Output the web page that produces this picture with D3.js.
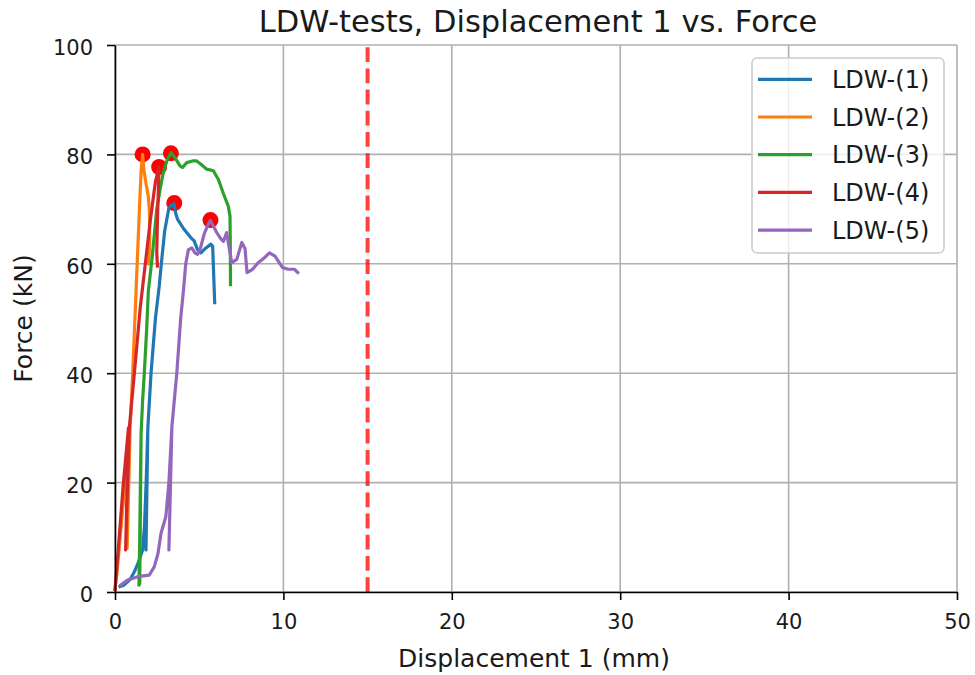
<!DOCTYPE html>
<html>
<head>
<meta charset="utf-8">
<script src="https://cdn.jsdelivr.net/npm/d3@7"></script>
<style>
  html, body { margin: 0; padding: 0; background: #ffffff; }
  svg { display: block; font-family: "DejaVu Sans", sans-serif; }
</style>
</head>
<body>
<svg id="chart" width="975" height="675"></svg>
<script>
// ---------- data ----------
const seriesNames = ["LDW-(1)", "LDW-(2)", "LDW-(3)", "LDW-(4)", "LDW-(5)"];
const seriesColors = ["#1f77b4", "#ff7f0e", "#2ca02c", "#d62728", "#9467bd"];

const ldw1 = [[0.3,1.0],[0.55,1.3],[0.9,2.3],[1.15,3.7],[1.4,5.5],[1.64,7.7],[1.75,12],[1.85,20],[1.95,30],[1.84,7.7],[1.95,30],[2.14,40],[2.4,50],[2.63,56],[2.75,60],[2.95,66],[3.2,70.2],[3.32,70.6],[3.5,71.0],[3.6,69.3],[3.72,68.1],[4.1,66.3],[4.5,64.8],[4.7,64.2],[4.9,62.6],[5.1,62.0],[5.4,62.9],[5.7,63.6],[5.8,63.2],[5.86,58],[5.92,52.9]];
const ldw2 = [[0,0.5],[0.1,3],[0.25,8],[0.45,15],[0.7,23],[0.9,30],[0.72,8],[0.9,30],[1.05,40],[1.25,55],[1.45,70],[1.55,77],[1.64,80],[1.72,77],[1.85,74.5],[1.97,72.5],[2.05,69.5],[2.06,64],[2.0,60]];
const ldw3 = [[1.42,1.3],[1.46,8],[1.5,18],[1.55,29],[1.47,1.5],[1.55,29],[1.64,35],[1.74,40],[1.88,48],[1.98,55],[2.2,61],[2.48,70],[2.7,74],[2.87,76.7],[3.1,79],[3.32,80.3],[3.56,79.4],[3.86,77.9],[4.01,77.6],[4.26,78.5],[4.6,78.8],[4.85,78.8],[5.1,78.2],[5.45,77.3],[5.84,77.0],[6.14,75.4],[6.43,72.9],[6.73,70.5],[6.83,68.7],[6.85,62],[6.86,56.2]];
const ldw4 = [[0,0.5],[0.1,4],[0.3,12],[0.5,20],[0.8,30],[0.63,7.7],[0.85,30],[1.15,40],[1.5,52],[1.8,60],[2.1,68],[2.4,75],[2.62,77.7],[2.58,74],[2.52,68],[2.48,62],[2.52,59.6]];
const ldw5 = [[0.36,1.3],[0.75,2.2],[1.35,2.8],[2.04,3.1],[2.33,4.6],[2.55,7],[2.73,10.7],[3.02,13.8],[3.2,20],[3.38,30.3],[3.2,7.7],[3.38,30.3],[3.67,40],[3.9,50],[4.07,55.3],[4.2,60],[4.36,62.6],[4.56,62.9],[4.75,62.0],[4.9,61.7],[5.05,62.6],[5.3,65.5],[5.54,67.2],[5.66,67.9],[6.04,65.7],[6.3,64.5],[6.44,64.1],[6.63,65.7],[6.93,60.2],[7.23,60.8],[7.53,63.9],[7.72,62.8],[7.84,58.4],[8.17,59],[8.5,60.2],[8.87,61.1],[9.17,62],[9.5,61.4],[9.95,59.3],[10.3,59],[10.65,59],[10.85,58.4]];
const seriesData = [ldw1, ldw2, ldw3, ldw4, ldw5];

const peakX = [3.52, 1.64, 3.32, 2.62, 5.67];
const peakY = [71.1, 80.0, 80.2, 77.7, 68.0];

const limitX = 15;
const xTicks = [0, 10, 20, 30, 40, 50];
const yTicks = [0, 20, 40, 60, 80, 100];
const titleText = "LDW-tests, Displacement 1 vs. Force";
const xLabelText = "Displacement 1 (mm)";
const yLabelText = "Force (kN)";

// ---------- layout ----------
const L = 115, R = 957, T = 45, B = 592;
const svg = d3.select("#chart");
const x = d3.scaleLinear().domain([0, 50]).range([L, R]);
const y = d3.scaleLinear().domain([0, 100]).range([B, T]);

// grid
const grid = svg.append("g");
grid.selectAll(".gx").data(xTicks).join("line")
  .attr("x1", d => x(d)).attr("x2", d => x(d)).attr("y1", T).attr("y2", B)
  .attr("stroke", "#b0b0b0").attr("stroke-width", 1.6);
grid.selectAll(".gy").data(yTicks).join("line")
  .attr("x1", L).attr("x2", R).attr("y1", d => y(d)).attr("y2", d => y(d))
  .attr("stroke", "#b0b0b0").attr("stroke-width", 1.6);

// peak dots (under the lines)
svg.append("g").selectAll("circle").data(peakX).join("circle")
  .attr("cx", d => x(d)).attr("cy", (d, i) => y(peakY[i])).attr("r", 8)
  .attr("fill", "#ff0000");

// curves
const line = d3.line().x(d => x(d[0])).y(d => y(d[1]));
svg.append("g").selectAll("path").data(seriesData).join("path")
  .attr("d", line).attr("fill", "none")
  .attr("stroke", (d, i) => seriesColors[i]).attr("stroke-width", 3.2)
  .attr("stroke-linejoin", "round").attr("stroke-linecap", "square");

// limit line
svg.append("line")
  .attr("x1", x(limitX)).attr("x2", x(limitX)).attr("y1", y(0)).attr("y2", y(100))
  .attr("stroke", "#ff0000").attr("stroke-opacity", 0.75).attr("stroke-width", 4)
  .attr("stroke-dasharray", "14.8,6.4");

// axes
const xAxis = d3.axisBottom(x).tickValues(xTicks).tickFormat(d3.format("d"))
  .tickSize(8).tickSizeOuter(0).tickPadding(14);
const yAxis = d3.axisLeft(y).tickValues(yTicks).tickFormat(d3.format("d"))
  .tickSize(8).tickSizeOuter(0).tickPadding(14);

const gx = svg.append("g").attr("transform", `translate(0,${B})`).call(xAxis);
const gy = svg.append("g").attr("transform", `translate(${L},0)`).call(yAxis);
[gx, gy].forEach(g => {
  g.select(".domain").attr("stroke", "#000").attr("stroke-width", 1.6);
  g.selectAll(".tick line").attr("stroke", "#000").attr("stroke-width", 1.6);
  g.selectAll(".tick text").attr("fill", "#1a1a1a")
    .style("font-family", "'DejaVu Sans', sans-serif").style("font-size", "21px");
});
gx.selectAll(".tick text").attr("y", 22).attr("dy", "0.71em");
gy.selectAll(".tick text").attr("dy", "0.45em");

// title & labels
svg.append("text").attr("x", (L + R) / 2 + 2).attr("y", 32)
  .attr("text-anchor", "middle").style("font-size", "30.5px").attr("fill", "#1a1a1a")
  .text(titleText);
svg.append("text").attr("x", (L + R) / 2 - 2).attr("y", 667)
  .attr("text-anchor", "middle").style("font-size", "25px").attr("fill", "#1a1a1a")
  .text(xLabelText);
svg.append("text").attr("transform", `translate(32,${(T + B) / 2}) rotate(-90)`)
  .attr("text-anchor", "middle").style("font-size", "25px").attr("fill", "#1a1a1a")
  .text(yLabelText);

// legend
const lg = svg.append("g");
lg.append("rect").attr("x", 752).attr("y", 58).attr("width", 192).attr("height", 195)
  .attr("rx", 5).attr("fill", "#ffffff").attr("fill-opacity", 0.8)
  .attr("stroke", "#cccccc").attr("stroke-width", 1.6);
const rows = lg.selectAll(".row").data(seriesNames).join("g")
  .attr("transform", (d, i) => `translate(0,${79.3 + i * 37.7})`);
rows.append("line").attr("x1", 758).attr("x2", 812).attr("y1", 0).attr("y2", 0)
  .attr("stroke", (d, i) => seriesColors[i]).attr("stroke-width", 3.2);
rows.append("text").attr("x", 832).attr("y", 0).attr("dy", "0.36em")
  .style("font-size", "24px").attr("fill", "#1a1a1a").text(d => d);
</script>
</body>
</html>
